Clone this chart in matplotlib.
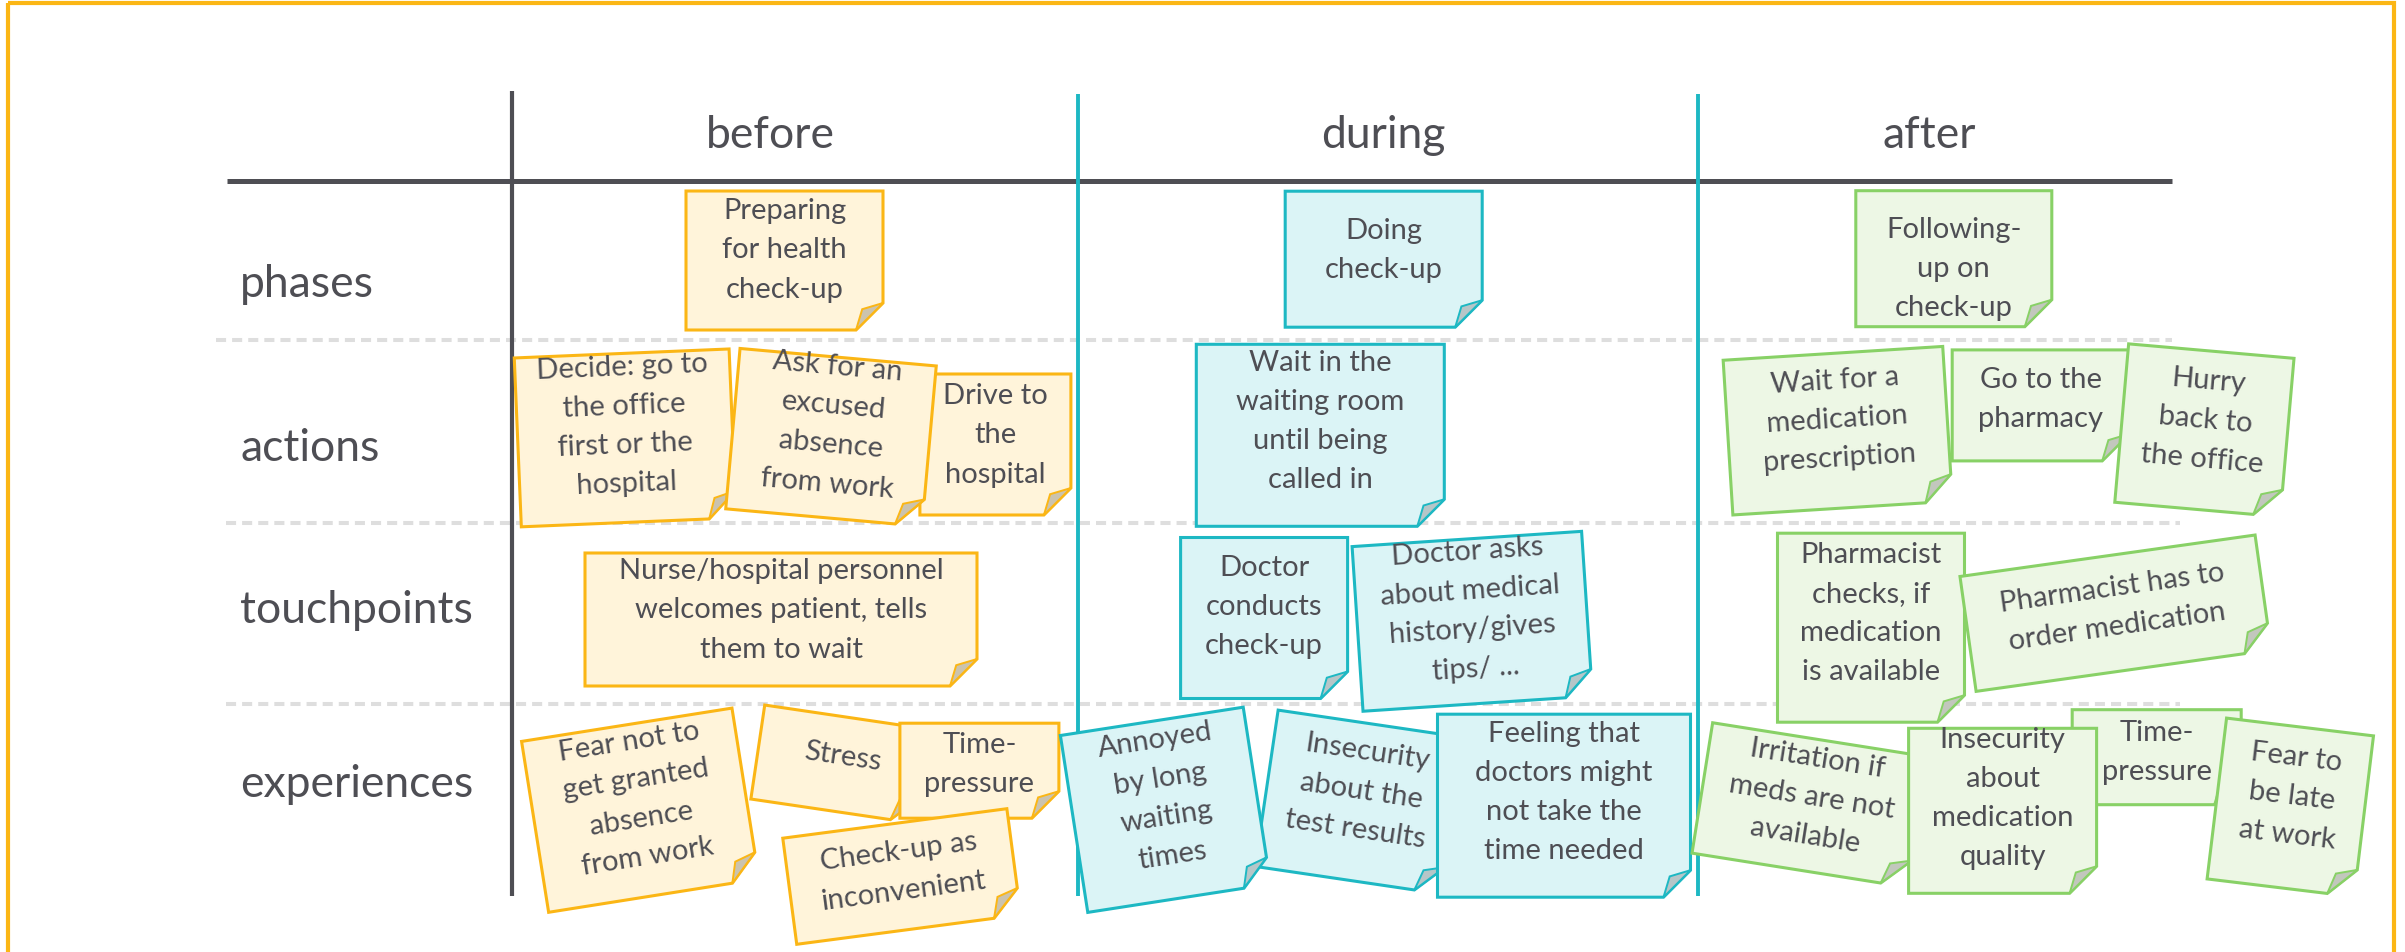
import matplotlib.pyplot as plt
from matplotlib.patches import Polygon, Rectangle
import numpy as np

plt.rcParams['font.family'] = ['Lato', 'DejaVu Sans']

# canvas is laid out in pixels of the 2405x953 picture
W_PX, H_PX = 2405, 953

columns = ["before", "during", "after"]
rows = ["phases", "actions", "touchpoints", "experiences"]

before_notes = [
    "Preparing\nfor health\ncheck-up",
    "Decide: go to\nthe office\nfirst or the\nhospital",
    "Drive to\nthe\nhospital",
    "Ask for an\nexcused\nabsence\nfrom work",
    "Nurse/hospital personnel\nwelcomes patient, tells\nthem to wait",
    "Fear not to\nget granted\nabsence\nfrom work",
    "Stress",
    "Time-\npressure",
    "Check-up as\ninconvenient",
]
during_notes = [
    "Doing\ncheck-up",
    "Wait in the\nwaiting room\nuntil being\ncalled in",
    "Doctor\nconducts\ncheck-up",
    "Doctor asks\nabout medical\nhistory/gives\ntips/ ...",
    "Insecurity\nabout the\ntest results",
    "Annoyed\nby long\nwaiting\ntimes",
    "Feeling that\ndoctors might\nnot take the\ntime needed",
]
after_notes = [
    "Following-\nup on\ncheck-up",
    "Wait for a\nmedication\nprescription",
    "Go to the\npharmacy",
    "Hurry\nback to\nthe office",
    "Pharmacist\nchecks, if\nmedication\nis available",
    "Pharmacist has to\norder medication",
    "Irritation if\nmeds are not\navailable",
    "Time-\npressure",
    "Insecurity\nabout\nmedication\nquality",
    "Fear to\nbe late\nat work",
]

# layout: centre x, centre y, width, height, tilt (deg, clockwise), text shift
before_layout = [
    (784.5, 261.5, 197, 139, 0, -11),
    (625.2, 438.9, 215, 169, -2.4, -13),
    (995.4, 445.5, 151, 141, 0, -10),
    (831.0, 438.4, 197, 161, 5.1, -13),
    (781.0, 620.5, 392, 133, 0, -10),
    (640.3, 811.2, 213, 173, -9.0, -12),
    (840.9, 765.3, 168, 95, 8.4, -9),
    (979.4, 771.7, 159, 95, 0, -7),
    (901.8, 877.5, 226, 107, -7.5, -6),
]
during_layout = [
    (1383.7, 260.2, 197, 136, 0, -10),
    (1320.3, 436.3, 248, 182, 0, -15),
    (1264.1, 619.0, 167, 161, 0, -12),
    (1472.3, 622.3, 230, 165, -3.8, -12),
    (1359.6, 803.0, 188, 158, 8.4, -12),
    (1165.5, 810.8, 185, 179, -8.8, -13),
    (1564.0, 806.7, 253, 183, 0, -14),
]
after_layout = [
    (1953.8, 259.7, 196, 136, 0, 9),
    (1837.8, 431.7, 220, 155, -3.6, -12),
    (2040.7, 406.4, 177, 111, 0, -7),
    (2204.4, 431.3, 166, 159, 5.0, -11),
    (1871.0, 628.7, 187, 189, 0, -15),
    (2115.6, 614.2, 298, 116, -8.0, -7),
    (1810.0, 806.0, 218, 132, 9.0, -9),
    (2156.7, 758.2, 169, 95, 0, -6),
    (2002.6, 811.8, 188, 165, 0, -13),
    (2290.3, 808.4, 148, 162, 6.9, -12),
]

DARK = "#4e4e54"
ORANGE = "#fbb615"
CYAN = "#1db8c3"
styles = {
    "before": dict(face="#fff4da", edge="#fbb615", fold="#cbc3ae"),
    "during": dict(face="#dbf4f6", edge="#1db8c3", fold="#b6c6c8"),
    "after": dict(face="#edf7e5", edge="#88d166", fold="#c2c7bd"),
}


def sticky(ax, text, lay, st, z):
    cx, cy, w, h, ang, dy = lay
    a = np.deg2rad(ang)
    ux = np.array([np.cos(a), np.sin(a)])
    vy = np.array([-np.sin(a), np.cos(a)])
    c = np.array([cx, cy])
    P = lambda u, v: c + u * ux + v * vy
    f = 27
    hw, hh = w / 2, h / 2
    body = [P(-hw, -hh), P(hw, -hh), P(hw, hh - f), P(hw - f, hh), P(-hw, hh)]
    flap = [P(hw, hh - f), P(hw - f, hh), P(hw - 0.77 * f, hh - 0.77 * f)]
    ax.add_patch(Polygon(body, closed=True, fc=st["face"], ec=st["edge"],
                         lw=2.2, joinstyle="miter", zorder=z))
    ax.add_patch(Polygon(flap, closed=True, fc=st["fold"], ec=st["edge"],
                         lw=1.4, zorder=z + 0.001))
    tx, ty = P(0, dy)
    ax.text(tx, ty, text, rotation=-ang, rotation_mode="anchor",
            ha="center", va="center", multialignment="center",
            fontsize=21, linespacing=1.62, color=DARK, zorder=z + 0.002)


fig = plt.figure(figsize=(W_PX / 100, H_PX / 100), dpi=100)
ax = fig.add_axes([0, 0, 1, 1])
ax.set_xlim(0, W_PX)
ax.set_ylim(H_PX, 0)
ax.axis("off")

# outer frame (bottom edge runs off the picture)
ax.add_patch(Rectangle((8, 4), 2386, 1000, fill=False, ec=ORANGE, lw=3, zorder=1))

# grid
for y, x0, x1 in [(341, 216, 2172), (524, 226, 2180), (705, 226, 2180)]:
    ln, = ax.plot([x0, x1], [y, y], color="#dedede", lw=2.9, zorder=1.2)
    ln.set_dashes((2.5, 1.5))
ax.plot([227, 2172], [182, 182], color=DARK, lw=3.6, solid_capstyle="butt", zorder=1.5)
ax.plot([512, 512], [92, 897], color=DARK, lw=3.0, solid_capstyle="butt", zorder=1.5)
for x in (1078, 1698):
    ax.plot([x, x], [95, 897], color=CYAN, lw=2.8, solid_capstyle="butt", zorder=1.5)

# headers and row labels
for name, x in zip(columns, [770, 1383, 1929]):
    ax.text(x, 148, name, ha="center", va="baseline", fontsize=32, color=DARK)
for name, y in zip(rows, [297, 461, 623, 797]):
    ax.text(240, y, name, ha="left", va="baseline", fontsize=32, color=DARK)

z = 2.0
for col, texts, layout in [("before", before_notes, before_layout),
                           ("during", during_notes, during_layout),
                           ("after", after_notes, after_layout)]:
    for t, lay in zip(texts, layout):
        sticky(ax, t, lay, styles[col], z)
        z += 0.01

fig.savefig("out.png", dpi=100)
